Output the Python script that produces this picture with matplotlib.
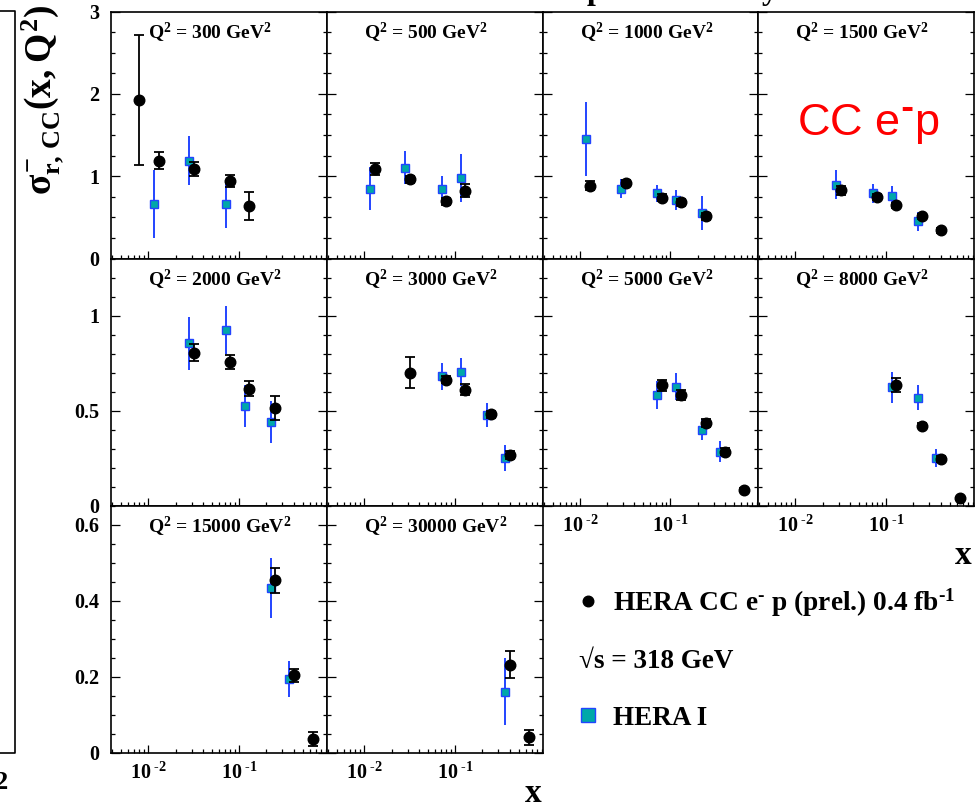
import numpy as np
import matplotlib
matplotlib.use("Agg")
import matplotlib.pyplot as plt
from matplotlib.ticker import LogLocator, MultipleLocator, FixedLocator, FuncFormatter, NullFormatter
from matplotlib.lines import Line2D

plt.rcParams['font.family'] = ['Liberation Serif', 'DejaVu Serif']
plt.rcParams['font.weight'] = 'bold'
plt.rcParams['mathtext.fontset'] = 'custom'
plt.rcParams['mathtext.rm'] = 'Liberation Serif:bold'
plt.rcParams['mathtext.it'] = 'Liberation Serif:bold'
plt.rcParams['mathtext.bf'] = 'Liberation Serif:bold'
plt.rcParams['mathtext.sf'] = 'Liberation Serif:bold'

# ---------------- data ----------------
q2_values = [300, 500, 1000, 1500, 2000, 3000, 5000, 8000, 15000, 30000]

# HERA CC e-p (prel.) 0.4 fb^-1
new_x = [
    [0.008, 0.013, 0.032, 0.08, 0.13],
    [0.013, 0.032, 0.08, 0.13],
    [0.013, 0.032, 0.08, 0.13, 0.25],
    [0.032, 0.08, 0.13, 0.25, 0.4],
    [0.032, 0.08, 0.13, 0.25],
    [0.032, 0.08, 0.13, 0.25, 0.4],
    [0.08, 0.13, 0.25, 0.4, 0.65],
    [0.13, 0.25, 0.4, 0.65],
    [0.25, 0.4, 0.65],
    [0.4, 0.65],
]
new_y = [
    [1.93, 1.19, 1.085, 0.94, 0.638],
    [1.085, 0.963, 0.695, 0.825],
    [0.886, 0.915, 0.74, 0.683, 0.512],
    [0.826, 0.748, 0.646, 0.512, 0.341],
    [0.805, 0.753, 0.614, 0.512],
    [0.70, 0.663, 0.609, 0.479, 0.265],
    [0.632, 0.581, 0.435, 0.284, 0.081],
    [0.635, 0.421, 0.246, 0.037],
    [0.453, 0.203, 0.035],
    [0.231, 0.0395],
]
new_err = [
    [0.79, 0.105, 0.085, 0.075, 0.17],
    [0.075, 0.04, 0.04, 0.075],
    [0.06, 0.04, 0.04, 0.04, 0.04],
    [0.06, 0.04, 0.03, 0.03, 0.03],
    [0.045, 0.037, 0.04, 0.062],
    [0.083, 0.02, 0.028, 0.02, 0.02],
    [0.03, 0.025, 0.02, 0.02, 0.01],
    [0.035, 0.015, 0.015, 0.008],
    [0.033, 0.018, 0.019],
    [0.035, 0.021],
]

# HERA I
h1_x = [
    [0.013, 0.032, 0.08],
    [0.013, 0.032, 0.08, 0.13],
    [0.013, 0.032, 0.08, 0.13, 0.25],
    [0.032, 0.08, 0.13, 0.25],
    [0.032, 0.08, 0.13, 0.25],
    [0.08, 0.13, 0.25, 0.4],
    [0.08, 0.13, 0.25, 0.4],
    [0.13, 0.25, 0.4],
    [0.25, 0.4],
    [0.4],
]
h1_y = [
    [0.659, 1.187, 0.659],
    [0.85, 1.10, 0.84, 0.976],
    [1.455, 0.85, 0.79, 0.707, 0.553],
    [0.894, 0.79, 0.756, 0.455],
    [0.854, 0.923, 0.523, 0.439],
    [0.679, 0.702, 0.477, 0.249],
    [0.581, 0.626, 0.40, 0.284],
    [0.623, 0.567, 0.251],
    [0.433, 0.194],
    [0.160],
]
h1_err = [
    [0.41, 0.30, 0.29],
    [0.26, 0.20, 0.165, 0.295],
    [0.45, 0.11, 0.10, 0.12, 0.21],
    [0.175, 0.11, 0.13, 0.115],
    [0.14, 0.125, 0.11, 0.11],
    [0.07, 0.075, 0.065, 0.07],
    [0.075, 0.07, 0.055, 0.055],
    [0.082, 0.066, 0.047],
    [0.078, 0.047],
    [0.088],
]

row_ylim = [3.0, 1.3, 0.65]
row_major = [[0, 1, 2, 3], [0, 0.5, 1], [0, 0.2, 0.4, 0.6]]
row_minor = [0.25, 0.1, 0.05]
HY = "\u2010"  # short superscript dash as in the original
x_tick_labels = ["$10^{\\;%s2}$" % HY, "$10^{\\;%s1}$" % HY]

# ---------------- style ----------------
W, H = 975, 806
HERA1_SHIFT = 0.89
col_edges = [111, 327, 543, 758, 974]
row_edges = [11.5, 258.5, 505.5, 752.5]
sq_face = '#00a8a8'
sq_edge = '#2244ff'

fig = plt.figure(figsize=(W / 100, H / 100), dpi=100)

def add_ax(r, c):
    l = col_edges[c]
    w = col_edges[c + 1] - l
    t = row_edges[r]
    h = row_edges[r + 1] - t
    return fig.add_axes([l / W, 1 - (t + h) / H, w / W, h / H])

fmt_y = FuncFormatter(lambda v, p: "%g" % v)

for i, q2 in enumerate(q2_values):
    r, c = divmod(i, 4)
    ax = add_ax(r, c)
    ax.set_xscale('log')
    ax.set_xlim(0.0039, 0.93)
    ax.set_ylim(0, row_ylim[r])

    hx = np.array(h1_x[i]) * HERA1_SHIFT
    ax.errorbar(hx, h1_y[i], yerr=h1_err[i], fmt='s', ms=5.6, mfc=sq_face,
                mec=sq_edge, mew=1.0, ecolor=sq_edge, elinewidth=1.4,
                capsize=0, zorder=3, clip_on=False)
    ax.errorbar(new_x[i], new_y[i], yerr=new_err[i], fmt='o', ms=7.6,
                color='black', ecolor='black', elinewidth=1.3, capsize=3.8,
                capthick=1.3, zorder=4, clip_on=False)

    ax.text(0.171, 0.889, "Q$^{2}$ = %d GeV$^{2}$" % q2, transform=ax.transAxes,
            ha='left', va='baseline', fontsize=14, fontweight='bold')

    ax.xaxis.set_major_locator(LogLocator(base=10, numticks=10))
    ax.xaxis.set_minor_locator(LogLocator(base=10, subs=np.arange(2, 10), numticks=20))
    ax.yaxis.set_major_locator(FixedLocator(row_major[r]))
    ax.yaxis.set_minor_locator(MultipleLocator(row_minor[r]))

    ax.tick_params(axis='both', which='both', direction='in', top=False,
                   right=True, left=True, bottom=True, width=0.9,
                   labelsize=14.5)
    ax.tick_params(axis='y', which='major', length=6.5, pad=8.5)
    ax.tick_params(axis='y', which='minor', length=3)
    ax.tick_params(axis='x', which='major', length=5.5, pad=7)
    ax.tick_params(axis='x', which='minor', length=2.8)

    for s in ax.spines.values():
        s.set_linewidth(1.2)

    if c == 0:
        ax.yaxis.set_major_formatter(fmt_y)
    else:
        ax.yaxis.set_major_formatter(NullFormatter())

    bottom_row = (r == 2) or (r == 1 and c >= 2)
    if bottom_row:
        ax.xaxis.set_major_formatter(FuncFormatter(
            lambda v, p: x_tick_labels[0] if abs(np.log10(v) + 2) < 0.01 else
            (x_tick_labels[1] if abs(np.log10(v) + 1) < 0.01 else "")))
    else:
        ax.xaxis.set_major_formatter(NullFormatter())
    ax.xaxis.set_minor_formatter(NullFormatter())

    if i == 3:
        ax.text(0.18, 0.50, "CC e$^{%s}$p" % HY, transform=ax.transAxes,
                color='red', fontsize=32.5, family='Liberation Sans',
                fontweight='normal', math_fontfamily='dejavusans',
                ha='left', va='baseline')

# y axis label
fig.text(43 / W, 1 - 100 / H, r"$\sigma^{-}_{r,\,CC}(x,Q^{2})$", rotation=90,
         ha='center', va='center', fontsize=27)

# x axis labels
fig.text(963 / W, 1 - 555 / H, "x", ha='center', va='center', fontsize=24,
         fontweight='bold')
fig.text(533 / W, 1 - 794 / H, "x", ha='center', va='center', fontsize=24,
         fontweight='bold')

# legend (manual, ROOT style)
fig.add_artist(Line2D([588 / W], [1 - 601 / H], transform=fig.transFigure,
                      marker='o', ms=7.6, color='black', ls='none'))
fig.text(613 / W, 1 - 610.5 / H,
         "HERA CC e$^{%s}$ p (prel.) 0.4 fb$^{%s1}$" % (HY, HY),
         ha='left', va='baseline', fontsize=19.7, fontweight='bold')
fig.text(579 / W, 1 - 667.5 / H, "\u221as = 318 GeV", ha='left', va='baseline',
         fontsize=19.5, fontweight='bold')
fig.add_artist(Line2D([588 / W], [1 - 715 / H], transform=fig.transFigure,
                      marker='s', ms=9.5, mfc=sq_face, mec=sq_edge, mew=1.0,
                      ls='none'))
fig.text(613 / W, 1 - 725 / H, "HERA I", ha='left', va='baseline',
         fontsize=19.5, fontweight='bold')

# cropped remains of the neighbouring pad and title
fig.add_artist(Line2D([0, 14.5 / W, 14.5 / W, 0],
                      [1 - 11 / H, 1 - 11 / H, 1 - 752.5 / H, 1 - 752.5 / H],
                      transform=fig.transFigure, color='black', lw=1.2))
fig.text(8 / W, 1 - 789 / H, "2", ha='right', va='baseline', fontsize=19,
         fontweight='bold')
fig.text(779 / W, 1 + 0.5 / H, "HERA CC e$^{-}$p Preliminary", ha='right',
         va='baseline', fontsize=23, fontweight='bold')

fig.savefig("out.png", dpi=100)
